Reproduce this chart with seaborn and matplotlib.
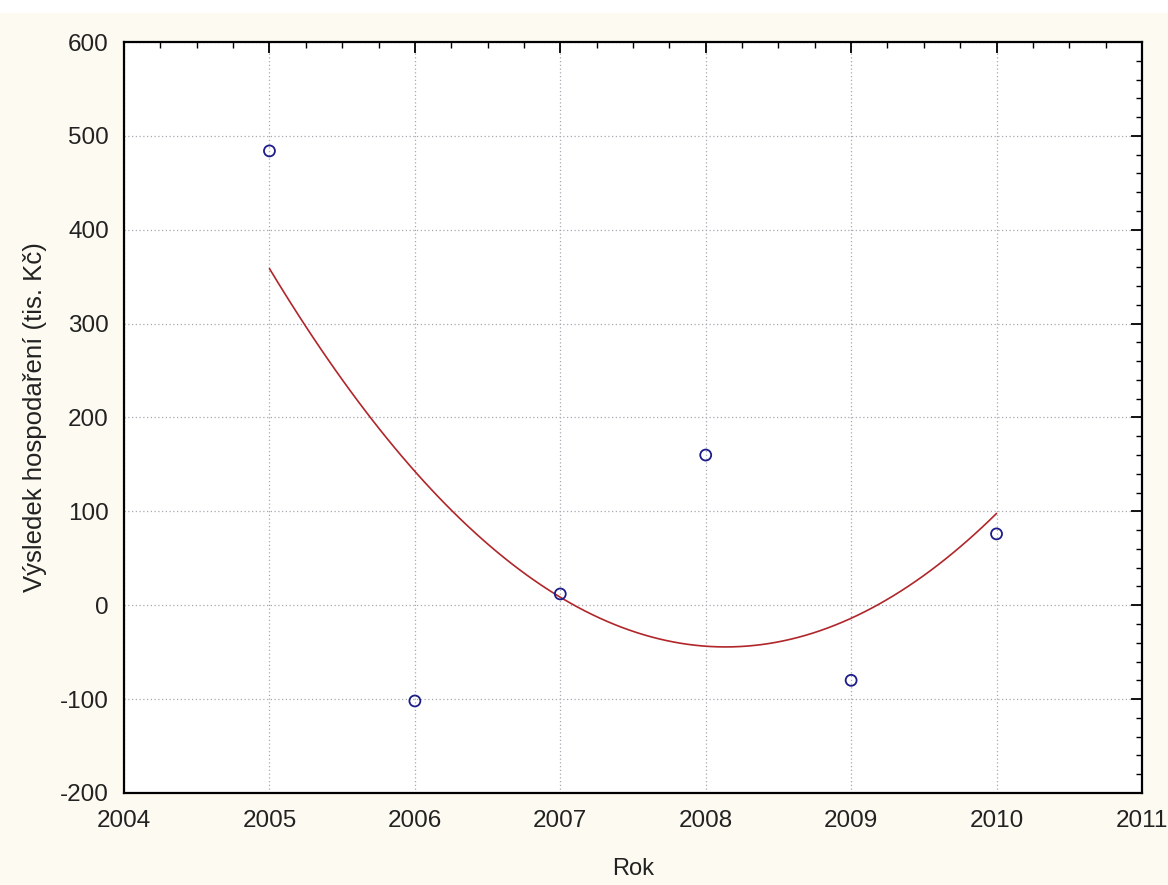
import numpy as np
import pandas as pd
import matplotlib
matplotlib.use('Agg')
import matplotlib.pyplot as plt
from matplotlib.ticker import AutoMinorLocator, MultipleLocator
import seaborn as sns

years = [2005, 2006, 2007, 2008, 2009, 2010]
result = [484, -102, 12, 160, -80, 76]

x_label = 'Rok'
y_label = 'Výsledek hospodaření (tis. Kč)'


def plot_result_trend(df):
    """
    Scatter of yearly results with a quadratic fit (second order regression).
    """
    fig = plt.figure(figsize=(11.68, 8.85), dpi=100, facecolor='#fdfbf1')
    # thin white strip along the top edge, as in the original screenshot
    fig.add_artist(plt.Rectangle((0, 1 - 13 / 885), 1, 13 / 885, transform=fig.transFigure,
                                 facecolor='white', edgecolor='none'))
    ax = fig.add_axes([0.1062, 0.104, 0.8715, 0.8485])
    ax.set_facecolor('white')

    # quadratic trend line, fitted by seaborn itself
    sns.regplot(data=df, x='Rok', y='Vysledek', order=2, ci=None, scatter=False,
                truncate=True, ax=ax,
                line_kws=dict(color='#b0262a', linewidth=1.2, zorder=2))
    sns.scatterplot(data=df, x='Rok', y='Vysledek', ax=ax, marker='o', s=62,
                    facecolor='none', edgecolor='#1c1c8a', linewidth=1.3, zorder=3)

    ax.set_xlim(2004, 2011)
    ax.set_ylim(-200, 600)
    ax.xaxis.set_major_locator(MultipleLocator(1))
    ax.yaxis.set_major_locator(MultipleLocator(100))
    ax.xaxis.set_minor_locator(AutoMinorLocator(4))
    ax.yaxis.set_minor_locator(AutoMinorLocator(5))
    ax.tick_params(which='both', direction='in', top=True, right=True, colors='black')
    ax.tick_params(which='major', length=8, width=1.3, labelsize=17.5, pad=12)
    ax.tick_params(which='minor', length=4, width=1.0)
    ax.tick_params(axis='y', which='major', pad=11)

    ax.grid(True, which='major', linestyle=(0, (1, 2)), color='#a8a8b0', linewidth=0.9)
    ax.set_axisbelow(True)
    for sp in ax.spines.values():
        sp.set_visible(True)
        sp.set_color('black')
        sp.set_linewidth(1.6)

    ax.set_xlabel(x_label, fontsize=17, color='#222222', labelpad=19)
    ax.set_ylabel(y_label, fontsize=18.5, color='#222222', labelpad=9)
    for lab in ax.get_xticklabels() + ax.get_yticklabels():
        lab.set_color('#222222')

    fig.savefig('out.png', dpi=100, facecolor=fig.get_facecolor())


sns.set_style('white')
plt.rcParams['font.family'] = ['Liberation Sans', 'DejaVu Sans']
plt.rcParams['axes.unicode_minus'] = False

data = pd.DataFrame({'Rok': years, 'Vysledek': result})
plot_result_trend(data)
